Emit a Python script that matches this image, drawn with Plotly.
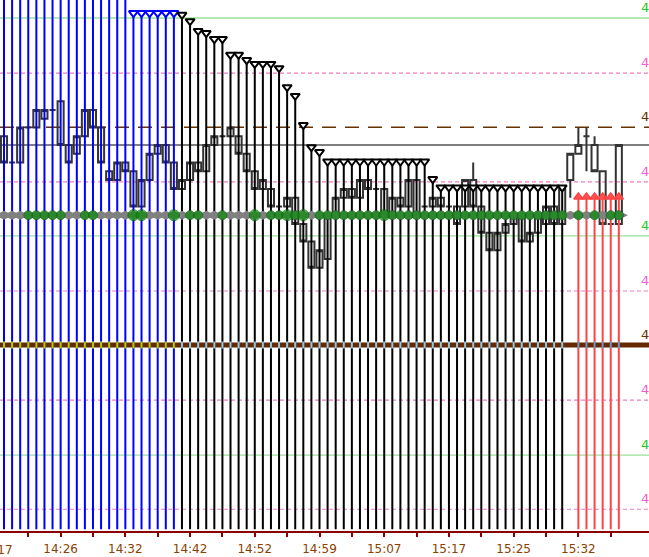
import plotly.graph_objects as go

# ---------------- data ----------------
bar_index = list(range(77))

opens = [4127.25, 4126.50, 4126.50, 4127.50, 4127.50, 4127.75, 4128.00, 4128.25, 4127.00, 4126.75,
         4127.25, 4128.00, 4127.50, 4126.25, 4126.00, 4126.50, 4126.25, 4125.25, 4126.00, 4126.75,
         4127.00, 4126.50, 4125.75, 4126.00, 4126.50, 4126.25, 4127.00, 4127.25, 4127.25, 4127.25,
         4126.75, 4126.25, 4125.75, 4125.75, 4125.25, 4125.25, 4125.50, 4124.75, 4124.25, 4123.50,
         4123.75, 4125.00, 4125.50, 4125.75, 4125.50, 4126.00, 4125.75, 4125.75, 4125.00, 4125.50,
         4125.25, 4126.00, 4125.25, 4125.25, 4125.50, 4125.25, 4125.25, 4125.25, 4126.00, 4125.25,
         4124.50, 4124.00, 4124.50, 4124.75, 4125.00, 4124.25, 4124.50, 4124.75, 4125.25, 4124.75,
         4126.00, 4126.75, 4127.25, 4127.00, 4126.25, 4124.75, 4124.75]
highs = [4127.25, 4126.50, 4127.50, 4127.50, 4128.00, 4128.00, 4128.00, 4128.25, 4127.00, 4127.25,
         4128.00, 4128.00, 4127.50, 4126.25, 4126.50, 4126.50, 4126.25, 4126.00, 4126.75, 4127.00,
         4127.00, 4126.50, 4126.00, 4126.50, 4126.50, 4127.00, 4127.25, 4127.25, 4127.50, 4127.25,
         4126.75, 4126.25, 4126.00, 4125.75, 4125.25, 4125.50, 4125.50, 4124.75, 4124.25, 4124.00,
         4125.00, 4125.50, 4125.75, 4125.75, 4126.00, 4126.00, 4125.75, 4125.75, 4125.50, 4125.50,
         4126.00, 4126.00, 4125.25, 4125.50, 4125.50, 4125.25, 4125.25, 4126.00, 4126.50, 4125.25,
         4124.50, 4124.50, 4124.75, 4125.00, 4125.00, 4124.50, 4125.00, 4125.25, 4125.25, 4125.75,
         4126.75, 4127.50, 4127.50, 4127.25, 4126.25, 4124.75, 4127.00]
lows = [4126.50, 4126.50, 4126.50, 4127.50, 4127.50, 4127.75, 4128.00, 4127.00, 4126.50, 4126.75,
        4127.25, 4127.50, 4126.50, 4126.00, 4126.00, 4126.25, 4125.25, 4125.25, 4126.00, 4126.75,
        4126.50, 4125.75, 4125.75, 4126.00, 4126.25, 4126.25, 4127.00, 4127.25, 4127.25, 4126.75,
        4126.25, 4125.75, 4125.75, 4125.25, 4125.25, 4125.25, 4124.75, 4124.25, 4123.50, 4123.50,
        4123.75, 4125.00, 4125.50, 4125.50, 4125.50, 4125.75, 4125.75, 4125.00, 4125.00, 4125.25,
        4125.25, 4125.00, 4125.25, 4125.25, 4125.25, 4125.25, 4124.75, 4125.25, 4125.25, 4124.50,
        4124.00, 4124.00, 4124.50, 4124.75, 4124.25, 4124.25, 4124.50, 4124.75, 4124.75, 4124.75,
        4125.50, 4126.75, 4126.25, 4126.25, 4124.75, 4124.75, 4124.75]
closes = [4126.50, 4126.50, 4127.50, 4127.50, 4128.00, 4128.00, 4128.00, 4127.00, 4126.50, 4127.25,
          4128.00, 4127.50, 4126.50, 4126.00, 4126.50, 4126.25, 4125.25, 4126.00, 4126.75, 4127.00,
          4126.50, 4125.75, 4126.00, 4126.50, 4126.25, 4127.00, 4127.25, 4127.25, 4127.50, 4126.75,
          4126.25, 4125.75, 4126.00, 4125.25, 4125.25, 4125.50, 4124.75, 4124.25, 4123.50, 4124.00,
          4125.00, 4125.50, 4125.75, 4125.50, 4126.00, 4125.75, 4125.75, 4125.00, 4125.50, 4125.25,
          4126.00, 4125.00, 4125.25, 4125.50, 4125.25, 4125.25, 4124.75, 4126.00, 4125.25, 4124.50,
          4124.00, 4124.50, 4124.75, 4125.00, 4124.25, 4124.50, 4125.00, 4125.25, 4124.75, 4125.75,
          4126.75, 4127.00, 4127.25, 4126.25, 4124.75, 4124.75, 4127.00]

# trailing-stop style indicator: level per bar and its state
stop_level = ([4132.00] * 8 + [4131.50] * 8 + [4130.76] * 6 +
              [4130.71, 4130.53, 4130.25, 4130.19, 4130.02, 4130.02, 4129.57, 4129.57, 4129.42,
               4129.31, 4129.31, 4129.31, 4129.19, 4128.65, 4128.40, 4127.57, 4126.94, 4126.80] +
              [4126.53] * 13 + [4126.03] + [4125.79] * 16 + [None] + [4125.52] * 6)
stop_state = ['blue'] * 22 + ['black'] * 48 + [None] + ['red'] * 6
stop_marker_from = 16  # first bar whose marker is shown (earlier ones are above the chart)

# dot row indicator
dot_level = 4125.00
dot_state = ['n', 'n', 'n', 'g', 'g', 'g', 'g', 'g', 'n', 'n',
             'g', 'g', 'n', 'n', 'n', 'n', 'G', 'G', 'n', 'n',
             'n', 'G', 'n', 'g', 'g', 'n', 'n', 'g', 'n', 'n',
             'n', 'G', 'n', 'g', 'g', 'G', 'g', 'G', 'n', 'g',
             'g', 'g', 'g', 'g', 'g', 'g', 'g', 'G', 'g', 'g',
             'g', 'g', 'g', 'g', 'g', 'g', 'g', 'g', 'g', 'g',
             'g', 'g', 'g', 'g', 'g', 'g', 'g', 'g', 'g', 'g',
             'n', 'g', 'n', 'g', 'n', 'g', 'g']

# horizontal reference levels
level_values = [4130.62, 4129.05, 4127.51, 4125.95, 4124.41, 4122.84, 4121.30, 4119.73, 4118.16, 4116.62]
level_kind = ['green', 'pink', 'brown_dash', 'pink', 'green', 'pink', 'brown', 'pink', 'green', 'pink']
last_line = 4127.00

# x-axis labels (bar index -> time)
tick_label_index = [-1, 7, 15, 23, 31, 39, 47, 55, 63, 71]
tick_label_text = ["14:17", "14:26", "14:32", "14:42", "14:52", "14:59", "15:07", "15:17", "15:25", "15:32"]
tick_mark_index = [3, 7, 11, 15, 19, 23, 27, 31, 35, 39, 43, 47, 51, 55, 59, 63, 67, 71, 75]

X_RANGE = [-0.494, 79.73]
Y_RANGE = [4116.0, 4131.133]
Y_BOTTOM = 4116.05

# ---------------- figure ----------------
fig = go.Figure()

state_colors = {'blue': '#0000ff', 'black': '#000000', 'red': '#ff4444'}

# vertical stop lines
for state, color in state_colors.items():
    xs, ys = [], []
    for i in bar_index:
        if stop_state[i] == state:
            xs += [i, i, None]
            ys += [stop_level[i], Y_BOTTOM, None]
    fig.add_trace(go.Scatter(x=xs, y=ys, mode='lines', line=dict(color=color, width=2),
                             hoverinfo='skip', showlegend=False))

# hollow candles
fig.add_trace(go.Candlestick(
    x=bar_index, open=opens, high=highs, low=lows, close=closes,
    increasing=dict(line=dict(color='#333333', width=2), fillcolor='rgba(0,0,0,0)'),
    decreasing=dict(line=dict(color='#333333', width=2), fillcolor='rgba(0,0,0,0)'),
    whiskerwidth=0, showlegend=False, hoverinfo='skip'))

# thick pivot line (drawn over the vertical lines)
brown_value = level_values[level_kind.index('brown')]
fig.add_trace(go.Scatter(x=X_RANGE, y=[brown_value, brown_value], mode='lines',
                         line=dict(color='#662800', width=5), hoverinfo='skip', showlegend=False))
patch_colors = {'blue': '#a8d400', 'black': '#8ccbee', 'red': '#7397c8'}
px_, pc_ = [], []
for i in bar_index:
    if stop_state[i] is not None:
        px_.append(i)
        pc_.append(patch_colors[stop_state[i]])
fig.add_trace(go.Scatter(x=px_, y=[brown_value] * len(px_), mode='markers',
                         marker=dict(symbol='line-ns', size=5, line=dict(color=pc_, width=2)),
                         hoverinfo='skip', showlegend=False))

# stop markers
for state, color in state_colors.items():
    xs = [i for i in bar_index if stop_state[i] == state and i >= stop_marker_from]
    ys = [stop_level[i] for i in xs]
    if state == 'red':
        mk = dict(symbol='triangle-up', size=8, color='#ff5050', line=dict(color='#ff4444', width=1.5))
    else:
        mk = dict(symbol='triangle-down', size=8, color='white', line=dict(color=color, width=2))
    fig.add_trace(go.Scatter(x=xs, y=ys, mode='markers', marker=mk, hoverinfo='skip', showlegend=False))

# dot row
fig.add_trace(go.Scatter(x=bar_index, y=[dot_level] * len(bar_index), mode='markers',
                         marker=dict(symbol='diamond-wide', size=13, color='#808080'),
                         hoverinfo='skip', showlegend=False))
gx = [i for i in bar_index if dot_state[i] in ('g', 'G')]
gs = [11 if dot_state[i] == 'G' else 9 for i in gx]
fig.add_trace(go.Scatter(x=gx, y=[dot_level] * len(gx), mode='markers',
                         marker=dict(symbol='circle', size=gs, color='#0a8a0a',
                                     line=dict(color='#05640a', width=1)),
                         hoverinfo='skip', showlegend=False))

# horizontal level lines
style = {
    'green': dict(color='#98e098', width=1.3, dash='solid'),
    'pink': dict(color='#f07cc4', width=1.2, dash='4px,3px'),
    'brown_dash': dict(color='#663300', width=1.5, dash='14px,9px'),
}
label_color = {'green': '#22cc22', 'pink': '#f060d0', 'brown_dash': '#663300', 'brown': '#663300'}
shapes = []
for v, k in zip(level_values, level_kind):
    if k in style:
        shapes.append(dict(type='line', xref='paper', x0=0, x1=1, yref='y', y0=v, y1=v,
                           line=style[k], layer='below'))
shapes.append(dict(type='line', xref='paper', x0=0, x1=1, yref='y', y0=last_line, y1=last_line,
                   line=dict(color='#000000', width=1.2), layer='below'))

annotations = []
for v, k in zip(level_values, level_kind):
    annotations.append(dict(xref='paper', x=639 / 649, xanchor='left', yref='y', y=v, yanchor='bottom',
                            yshift=1, text=f"{v:.2f}", showarrow=False,
                            font=dict(family='DejaVu Sans', size=13, color=label_color[k])))

# tick labels
tickvals, ticktext = [], []
for t in tick_mark_index:
    tickvals.append(t)
    ticktext.append(tick_label_text[tick_label_index.index(t)] if t in tick_label_index else '')
for t, s in zip(tick_label_index, tick_label_text):
    if t < X_RANGE[0]:
        frac = (t - X_RANGE[0]) / (X_RANGE[1] - X_RANGE[0])
        annotations.append(dict(xref='paper', x=frac, xanchor='center', yref='paper', y=0,
                                yanchor='top', yshift=-10, text=s, showarrow=False,
                                font=dict(family='DejaVu Sans', size=12, color='#8b4000')))

fig.update_layout(
    width=649, height=557,
    margin=dict(l=0, r=0, t=0, b=26),
    paper_bgcolor='white', plot_bgcolor='white',
    boxgap=0.25, boxgroupgap=0,
    showlegend=False,
    shapes=shapes, annotations=annotations,
    xaxis=dict(range=X_RANGE, showgrid=False, zeroline=False, showline=True, linecolor='#8b0000',
               linewidth=2, ticks='outside', ticklen=4, tickwidth=1.5, tickcolor='#8b0000',
               tickvals=tickvals, ticktext=ticktext, rangeslider=dict(visible=False),
               ticklabelstandoff=2,
               tickfont=dict(family='DejaVu Sans', size=12, color='#8b4000'), fixedrange=True),
    yaxis=dict(range=Y_RANGE, visible=False, showgrid=False, zeroline=False, fixedrange=True),
)

fig.write_html("out.html", config={'displayModeBar': False},
               post_script="document.body.style.margin='0';")
